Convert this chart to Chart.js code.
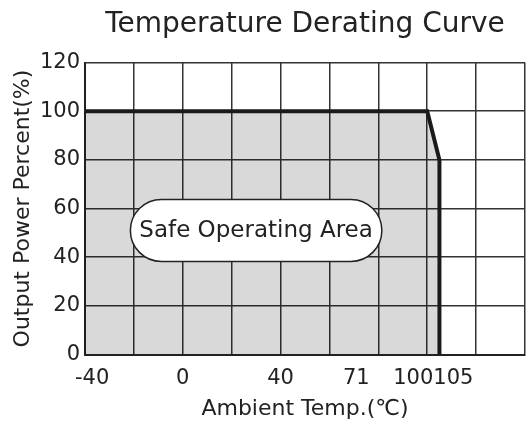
<!DOCTYPE html>
<html>
<head>
<meta charset="utf-8">
<script src="https://cdn.jsdelivr.net/npm/chart.js@4"></script>
<style>
  html, body { margin: 0; padding: 0; background: #fff; }
  #wrap { width: 530px; height: 423px; }
</style>
</head>
<body>
<div id="wrap"><canvas id="derating"></canvas></div>
<script>
// curve points (ambient temp in C, output power in %)
const tempC = [-40, 100, 105, 105];
const powerPct = [100, 100, 80, 0];
const xLabelValues = [-40, 0, 40, 71, 100, 105];
const areaLabel = 'Safe Operating Area';
const areaLabelAt = { x: 30, y: 51 };

const fontFamily = '"DejaVu Sans", "Noto Sans", sans-serif';
const ink = '#222';

// draws the temperature labels under the axis, pushing apart any that collide
const xLabelsPlugin = {
    id: 'xLabels',
    afterDraw(chart) {
        const ctx = chart.ctx;
        const xs = chart.scales.x;
        const area = chart.chartArea;
        ctx.save();
        ctx.font = '21px ' + fontFamily;
        ctx.fillStyle = ink;
        ctx.textAlign = 'center';
        ctx.textBaseline = 'middle';
        const items = xLabelValues.map(v => {
            const text = String(v);
            return { text, x: xs.getPixelForValue(v), w: ctx.measureText(text).width };
        });
        for (let i = 1; i < items.length; i++) {
            const a = items[i - 1], b = items[i];
            const gap = (a.w + b.w) / 2;
            if (b.x - a.x < gap) {
                const mid = (a.x + b.x) / 2;
                a.x = mid - gap / 2;
                b.x = mid + gap / 2;
            }
        }
        const first = items[0];
        if (first.x - first.w / 2 < area.left - 10) first.x = area.left - 10 + first.w / 2;
        items.forEach(it => ctx.fillText(it.text, it.x, area.bottom + 24));
        ctx.restore();
    }
};

// rounded box with the area name
const areaLabelPlugin = {
    id: 'areaLabel',
    afterDatasetsDraw(chart) {
        const ctx = chart.ctx;
        const cx = chart.scales.x.getPixelForValue(areaLabelAt.x);
        const cy = chart.scales.y.getPixelForValue(areaLabelAt.y);
        ctx.save();
        ctx.font = '23px ' + fontFamily;
        const w = ctx.measureText(areaLabel).width + 18;
        const h = 62;
        const r = h / 2;
        ctx.beginPath();
        ctx.roundRect(cx - w / 2, cy - h / 2, w, h, r);
        ctx.fillStyle = '#fff';
        ctx.fill();
        ctx.lineWidth = 1.5;
        ctx.strokeStyle = ink;
        ctx.stroke();
        ctx.fillStyle = ink;
        ctx.textAlign = 'center';
        ctx.textBaseline = 'middle';
        ctx.fillText(areaLabel, cx, cy + 1);
        ctx.restore();
    }
};

const points = tempC.map((t, i) => ({ x: t, y: powerPct[i] }));

new Chart(document.getElementById('derating'), {
    type: 'line',
    data: {
        datasets: [{
            data: points,
            borderColor: '#1a1a1a',
            borderWidth: 4,
            backgroundColor: 'rgba(0,0,0,0.15)',
            fill: 'origin',
            pointRadius: 0,
            tension: 0
        }]
    },
    options: {
        responsive: true,
        maintainAspectRatio: false,
        animation: false,
        layout: { padding: { left: 0, right: 5, top: 0, bottom: 0 } },
        plugins: {
            legend: { display: false },
            tooltip: { enabled: false },
            title: {
                display: true,
                fullSize: false,
                text: 'Temperature Derating Curve',
                color: ink,
                font: { family: fontFamily, size: 28, weight: 'normal' },
                padding: { top: 8, bottom: 21 }
            }
        },
        scales: {
            x: {
                type: 'linear',
                min: -40,
                max: 140,
                ticks: { stepSize: 20, display: false },
                grid: { color: '#333', lineWidth: 1.5, drawTicks: false },
                border: { color: ink, width: 2 },
                title: {
                    display: true,
                    text: 'Ambient Temp.(℃)',
                    color: ink,
                    font: { family: fontFamily, size: 22 },
                    padding: { top: 0, bottom: 1 }
                },
                afterFit(scale) {
                    scale.height = 68.5;
                    scale.paddingLeft = 0;
                    scale.paddingRight = 0;
                }
            },
            y: {
                min: 0,
                max: 120,
                ticks: {
                    stepSize: 20,
                    color: ink,
                    padding: 5,
                    font: { family: fontFamily, size: 21 }
                },
                grid: { color: '#333', lineWidth: 1.5, drawTicks: false },
                border: { color: ink, width: 2 },
                title: {
                    display: true,
                    text: 'Output Power Percent(%)',
                    color: ink,
                    font: { family: fontFamily, size: 22 },
                    padding: { top: 10, bottom: 0 }
                },
                afterFit(scale) {
                    scale.width = 85;
                    scale.paddingTop = 0;
                    scale.paddingBottom = 0;
                }
            }
        }
    },
    plugins: [xLabelsPlugin, areaLabelPlugin]
});
</script>
</body>
</html>
